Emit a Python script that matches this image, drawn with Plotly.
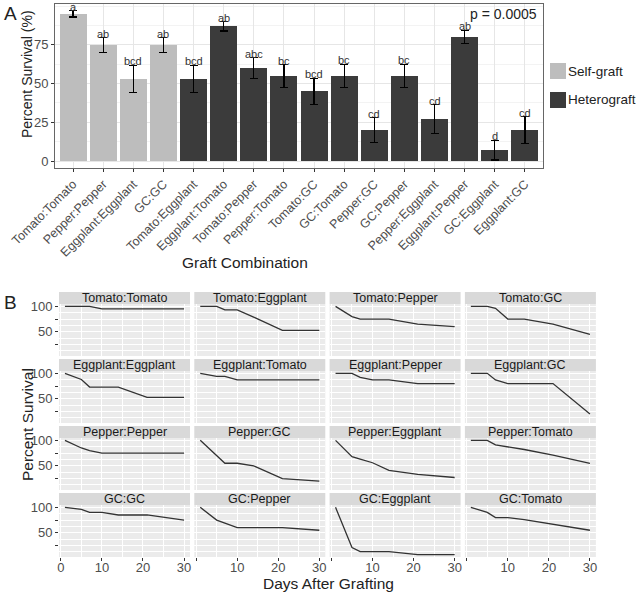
import plotly.graph_objects as go

W, H = 637, 597
FONT = "Liberation Sans, Arial, sans-serif"

# ---- panel A data
combos = ["Tomato:Tomato", "Pepper:Pepper", "Eggplant:Eggplant", "GC:GC",
          "Tomato:Eggplant", "Eggplant:Tomato", "Tomato:Pepper", "Pepper:Tomato",
          "Tomato:GC", "GC:Tomato", "Pepper:GC", "GC:Pepper",
          "Pepper:Eggplant", "Eggplant:Pepper", "GC:Eggplant", "Eggplant:GC"]
graft_type = ["Self-graft"] * 4 + ["Heterograft"] * 12
survival = [95, 75, 53, 75, 53, 87, 60, 55, 45, 55, 20, 55, 27, 80, 7, 20]
err = [2, 4.7, 8.7, 4.7, 8.7, 3, 6.7, 7.3, 8.3, 7.4, 8, 7.4, 9.3, 4.3, 6.3, 8.7]
letters = ["a", "ab", "bcd", "ab", "bcd", "ab", "abc", "bc",
           "bcd", "bc", "cd", "bc", "cd", "ab", "d", "cd"]

# ---- panel B data
days = [1, 5, 7, 10, 14, 21, 30]
facets = [
    ["Tomato:Tomato", "Tomato:Eggplant", "Tomato:Pepper", "Tomato:GC"],
    ["Eggplant:Eggplant", "Eggplant:Tomato", "Eggplant:Pepper", "Eggplant:GC"],
    ["Pepper:Pepper", "Pepper:GC", "Pepper:Eggplant", "Pepper:Tomato"],
    ["GC:GC", "GC:Pepper", "GC:Eggplant", "GC:Tomato"],
]
curves = {
    "Tomato:Tomato":     [100, 100, 100, 95, 95, 95, 95],
    "Tomato:Eggplant":   [100, 100, 93, 93, 79, 53, 53],
    "Tomato:Pepper":     [100, 80, 75, 75, 75, 65, 60],
    "Tomato:GC":         [100, 100, 96, 75, 75, 65, 45],
    "Eggplant:Eggplant": [100, 88, 73, 73, 73, 53, 53],
    "Eggplant:Tomato":   [100, 94, 94, 87, 87, 87, 87],
    "Eggplant:Pepper":   [100, 100, 92, 87, 87, 80, 80],
    "Eggplant:GC":       [100, 100, 87, 80, 80, 80, 20],
    "Pepper:Pepper":     [100, 85, 80, 75, 75, 75, 75],
    "Pepper:GC":         [100, 70, 55, 55, 50, 25, 20],
    "Pepper:Eggplant":   [100, 68, 63, 56, 41, 33, 27],
    "Pepper:Tomato":     [100, 100, 91, 87, 82, 71, 55],
    "GC:GC":             [100, 96, 90, 90, 85, 85, 75],
    "GC:Pepper":         [100, 75, 69, 60, 60, 60, 55],
    "GC:Eggplant":       [100, 21, 13, 13, 13, 7, 7],
    "GC:Tomato":         [100, 90, 80, 80, 76, 67, 55],
}


def fx(px):
    return px / W


def fy(py):
    return 1 - py / H


fig = go.Figure()
idx = list(range(len(combos)))
colors = {"Self-graft": "#bdbdbd", "Heterograft": "#3b3b3b"}
for g in ["Self-graft", "Heterograft"]:
    ii = [i for i in idx if graft_type[i] == g]
    fig.add_trace(go.Bar(
        x=ii, y=[survival[i] for i in ii], name=g, width=0.9, showlegend=False,
        marker=dict(color=colors[g], line=dict(width=0)),
        error_y=dict(type="data", array=[err[i] for i in ii], color="black",
                     thickness=1.3, width=4),
        xaxis="x", yaxis="y"))

annotations = []
for i in idx:
    annotations.append(dict(x=i, y=survival[i] + err[i], xref="x", yref="y",
                            text=letters[i], showarrow=False, xanchor="center",
                            yanchor="middle", yshift=4,
                            font=dict(size=11, color="#333333")))

layout = dict(
    width=W, height=H, margin=dict(l=0, r=0, t=0, b=0, autoexpand=False),
    paper_bgcolor="white", plot_bgcolor="white",
    font=dict(family=FONT, color="#333333"),
    bargap=0,
    xaxis=dict(domain=[fx(55), fx(543)], range=[-0.6, 15.6], tickmode="array",
               tickvals=idx, ticktext=combos, tickangle=-45, automargin=False,
               tickfont=dict(size=12.5, color="#4d4d4d"), ticks="outside", ticklen=3,
               tickcolor="#333333", showgrid=True, gridcolor="#e6e6e6", gridwidth=1,
               showline=True, linecolor="#666666", mirror=True, zeroline=False),
    yaxis=dict(domain=[fy(168), fy(4)], range=[-4.5, 101.4], tickvals=[0, 25, 50, 75],
               automargin=False,
               tickfont=dict(size=13, color="#4d4d4d"), ticks="outside", ticklen=3,
               tickcolor="#333333", showgrid=True, gridcolor="#e6e6e6", gridwidth=1,
               minor=dict(dtick=12.5, tick0=12.5, showgrid=True, gridcolor="#f3f3f3", gridwidth=0.6),
               showline=True, linecolor="#666666", mirror=True, zeroline=False),
)


def label(px, py, text, size, angle=0, xanchor="center"):
    return dict(x=fx(px), y=fy(py), xref="paper", yref="paper", text=text, showarrow=False,
                xanchor=xanchor, yanchor="middle", textangle=angle,
                font=dict(size=size, color="#222222"))


annotations += [
    label(539, 14, "p = 0.0005", 14, xanchor="right"),
    label(2, 14, "A", 19, xanchor="left"),
    label(2, 302, "B", 19, xanchor="left"),
    label(27, 74, "Percent Survival (%)", 14, angle=-90),
    label(245, 262, "Graft Combination", 15.5),
    label(27, 425, "Percent Survival", 15.5, angle=-90),
    label(328, 583, "Days After Grafting", 15.5),
]

shapes = []

# legend keys drawn by hand (ggplot-size squares)
for k, g in enumerate(["Self-graft", "Heterograft"]):
    yc = 71 + k * 29
    shapes.append(dict(type="rect", xref="paper", yref="paper",
                       x0=fx(550), x1=fx(566), y0=fy(yc + 8), y1=fy(yc - 8),
                       fillcolor=colors[g], line=dict(width=0)))
    annotations.append(label(565.5, yc, g, 13.5, xanchor="left"))

n = 2
for r, row in enumerate(facets):
    top = 304 + r * 67
    bot = top + 52
    for c, name in enumerate(row):
        left = 59 + c * 135.3
        right = left + 131
        xa, ya = "xaxis%d" % n, "yaxis%d" % n
        layout[xa] = dict(domain=[fx(left), fx(right)], range=[-0.45, 31.45], anchor="y%d" % n,
                          tickvals=[0, 10, 20, 30], automargin=False,
                          ticktext=(["0", "10", "20", "30"] if c == 0 else ["", "10", "20", "30"]),
                          showticklabels=(r == 3), ticks="outside" if r == 3 else "",
                          ticklen=3, tickcolor="#333333", ticklabelstandoff=-5,
                          tickfont=dict(size=13, color="#4d4d4d"),
                          showgrid=True, gridcolor="white", gridwidth=1.1,
                          minor=dict(dtick=10, tick0=5, showgrid=True, gridcolor="white", gridwidth=0.5),
                          zeroline=False, showline=False)
        layout[ya] = dict(domain=[fy(bot), fy(top)], range=[2.5, 104.6], anchor="x%d" % n,
                          tickvals=[25, 50, 75, 100], ticktext=["", "50", "", "100"],
                          automargin=False,
                          showticklabels=(c == 0), ticks="outside" if c == 0 else "",
                          ticklen=3, tickcolor="#333333",
                          tickfont=dict(size=13, color="#4d4d4d"),
                          showgrid=True, gridcolor="white", gridwidth=1.1,
                          minor=dict(dtick=25, tick0=12.5, showgrid=True, gridcolor="white", gridwidth=0.5),
                          zeroline=False, showline=False)
        shapes.append(dict(type="rect", xref="paper", yref="paper", layer="below",
                           x0=fx(left), x1=fx(right), y0=fy(bot), y1=fy(top),
                           fillcolor="#ebebeb", line=dict(width=0)))
        shapes.append(dict(type="rect", xref="paper", yref="paper",
                           x0=fx(left), x1=fx(right), y0=fy(top), y1=fy(top - 12),
                           fillcolor="#d9d9d9", line=dict(width=0)))
        annotations.append(dict(x=fx((left + right) / 2), y=fy(top - 6), xref="paper", yref="paper",
                                text=name, showarrow=False, xanchor="center", yanchor="middle",
                                font=dict(size=12.5, color="#1a1a1a")))
        fig.add_trace(go.Scatter(x=days, y=curves[name], mode="lines", showlegend=False,
                                 line=dict(color="#333333", width=1.3),
                                 xaxis="x%d" % n, yaxis="y%d" % n))
        n += 1

layout["annotations"] = annotations
layout["shapes"] = shapes
fig.update_layout(**layout)
# the page body has a default 8px margin; drop it so the figure fills the window
fig.write_html("out.html", config={"displayModeBar": False},
               post_script="document.body.style.margin='0';")
